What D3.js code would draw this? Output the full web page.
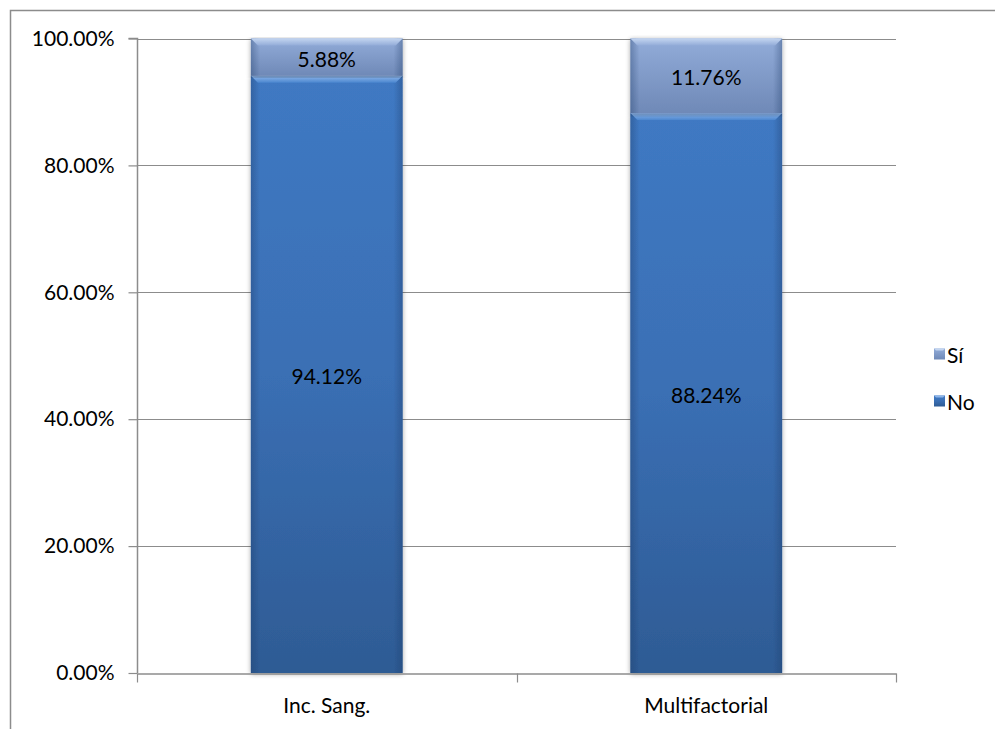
<!DOCTYPE html>
<html>
<head>
<meta charset="utf-8">
<script src="https://cdn.jsdelivr.net/npm/d3@7"></script>
<style>
  html, body { margin: 0; padding: 0; background: #fff; }
  svg { display: block; }
  text { font-family: Lato, "Open Sans", sans-serif; fill: #000; }
</style>
</head>
<body>
<svg id="chart" width="995" height="729"></svg>
<script>
// Categories and stacked shares (percent)
const categories = ["Inc. Sang.", "Multifactorial"];
const seriesNames = ["No", "Sí"];
const noValues = [94.12, 88.24];
const siValues = [5.88, 11.76];
const yTicks = [0, 20, 40, 60, 80, 100];

const W = 995, H = 729;
const FS = 21;
const margin = { left: 137, right: 99, top: 38.5, bottom: 56 };
const svg = d3.select("#chart");

const x = d3.scaleBand().domain(categories)
  .range([margin.left, W - margin.right]).paddingInner(0.6).paddingOuter(0.3);
const xOuter = d3.scaleBand().domain(categories)
  .range([margin.left, W - margin.right]);
const y = d3.scaleLinear().domain([0, 100]).range([H - margin.bottom, margin.top]);

// Gradients for bar fills
const defs = svg.append("defs");
function vGrad(id, stops) {
  const g = defs.append("linearGradient").attr("id", id)
    .attr("x1", 0).attr("y1", 0).attr("x2", 0).attr("y2", 1);
  stops.forEach(s => g.append("stop").attr("offset", s[0]).attr("stop-color", s[1]));
}
function hGrad(id, stops) {
  const g = defs.append("linearGradient").attr("id", id)
    .attr("x1", 0).attr("y1", 0).attr("x2", 1).attr("y2", 0);
  stops.forEach(s => g.append("stop").attr("offset", s[0]).attr("stop-color", s[1]).attr("stop-opacity", s[2]));
}
vGrad("gNo", [[0, "#3f79c3"], [0.5, "#3a6fb4"], [1, "#2e5b94"]]);
vGrad("gSi", [[0, "#92acd9"], [1, "#6f89b7"]]);
vGrad("bevNo", [[0, "#8fb6ea"], [1, "#4b86cf"]]);
vGrad("bevSi", [[0, "#c3d5f0"], [1, "#93acd8"]]);
hGrad("edges", [[0, "#1d3a66", 0.35], [0.06, "#1d3a66", 0.0], [0.94, "#1d3a66", 0.0], [1, "#1d3a66", 0.35]]);
const shadow = defs.append("filter").attr("id", "shadow")
  .attr("x", "-10%").attr("y", "-5%").attr("width", "120%").attr("height", "110%");
shadow.append("feGaussianBlur").attr("in", "SourceAlpha").attr("stdDeviation", 2.5).attr("result", "b");
shadow.append("feOffset").attr("in", "b").attr("dx", 0).attr("dy", 1).attr("result", "o");
shadow.append("feComponentTransfer").attr("in", "o").attr("result", "s")
  .append("feFuncA").attr("type", "linear").attr("slope", 0.35);
const merge = shadow.append("feMerge");
merge.append("feMergeNode").attr("in", "s");
merge.append("feMergeNode").attr("in", "SourceGraphic");

// Outer chart frame (clipped at right and bottom)
svg.append("path").attr("d", `M10.5,${H} V10.5 H${W}`)
  .attr("fill", "none").attr("stroke", "#8c8c8c").attr("stroke-width", 1.5);

// Gridlines
svg.append("g").selectAll("line").data(yTicks.filter(d => d > 0)).join("line")
  .attr("x1", margin.left).attr("x2", W - margin.right)
  .attr("y1", d => Math.round(y(d)) + 0.5).attr("y2", d => Math.round(y(d)) + 0.5)
  .attr("stroke", "#8c8c8c").attr("stroke-width", 1.2);

// Stack data
const rows = categories.map((c, i) => ({ cat: c, No: noValues[i], "Sí": siValues[i] }));
const stack = d3.stack().keys(seriesNames)(rows);

const bw = x.bandwidth();
const bars = svg.append("g");
stack.forEach(layer => {
  const key = layer.key;
  layer.forEach(seg => {
    const x0 = x(seg.data.cat);
    const y0 = y(seg[1]), y1 = y(seg[0]);
    const g = bars.append("g").attr("filter", "url(#shadow)");
    g.append("rect").attr("x", x0).attr("y", y0).attr("width", bw).attr("height", y1 - y0)
      .attr("fill", key === "No" ? "url(#gNo)" : "url(#gSi)");
    g.append("rect").attr("x", x0).attr("y", y0).attr("width", bw).attr("height", y1 - y0)
      .attr("fill", "url(#edges)");
    // top bevel
    const bv = 7;
    g.append("path")
      .attr("d", `M${x0},${y0} H${x0 + bw} L${x0 + bw - bv},${y0 + bv} H${x0 + bv} Z`)
      .attr("fill", key === "No" ? "url(#bevNo)" : "url(#bevSi)");
    // value label
    svg.append("text")
      .attr("x", x0 + bw / 2).attr("y", (y0 + y1) / 2 + 1)
      .attr("text-anchor", "middle").attr("dominant-baseline", "central")
      .attr("font-size", FS)
      .text(d3.format(".2f")(seg[1] - seg[0]) + "%");
  });
});

// Y axis
const yAxis = svg.append("g").attr("transform", `translate(${margin.left + 0.5},0)`)
  .call(d3.axisLeft(y).tickValues(yTicks).tickSize(9).tickPadding(14)
    .tickFormat(d => d3.format(".2f")(d) + "%"));
yAxis.select(".domain").attr("stroke", "#8c8c8c").attr("stroke-width", 1.5)
  .attr("d", `M-9,${y(100)}H0V${y(0)}`);
yAxis.selectAll(".tick line").attr("stroke", "#8c8c8c").attr("stroke-width", 1.2);
yAxis.selectAll("text").attr("font-size", FS).attr("font-family", "Lato, sans-serif").attr("fill", "#000");

// X axis
const xAxis = svg.append("g").attr("transform", `translate(0,${Math.round(y(0)) + 0.5})`)
  .call(d3.axisBottom(xOuter).tickSize(0).tickPadding(25));
xAxis.select(".domain").attr("stroke", "#8c8c8c").attr("stroke-width", 1.5);
xAxis.selectAll("text").attr("font-size", FS).attr("font-family", "Lato, sans-serif").attr("fill", "#000");
// category separators
const seps = [margin.left, ...categories.map(c => xOuter(c) + xOuter.bandwidth())];
xAxis.append("g").selectAll("line").data(seps).join("line")
  .attr("x1", d => Math.round(d) + 0.5).attr("x2", d => Math.round(d) + 0.5)
  .attr("y1", 0).attr("y2", 9).attr("stroke", "#8c8c8c").attr("stroke-width", 1.2);

// Legend
const legend = svg.append("g").attr("transform", "translate(934,0)");
const legendItems = [{ name: "Sí", fill: "url(#gSi)", y: 354 }, { name: "No", fill: "url(#gNo)", y: 401 }];
legendItems.forEach(it => {
  legend.append("rect").attr("x", 0).attr("y", it.y - 5.5).attr("width", 11).attr("height", 11)
    .attr("fill", it.fill);
  legend.append("path").attr("d", `M0,${it.y - 5.5}H11L9,${it.y - 3.5}H2Z`)
    .attr("fill", it.name === "No" ? "#8fb6ea" : "#c3d5f0");
  legend.append("text").attr("x", 13).attr("y", it.y).attr("dominant-baseline", "central")
    .attr("font-size", FS).text(it.name);
});
</script>
</body>
</html>
